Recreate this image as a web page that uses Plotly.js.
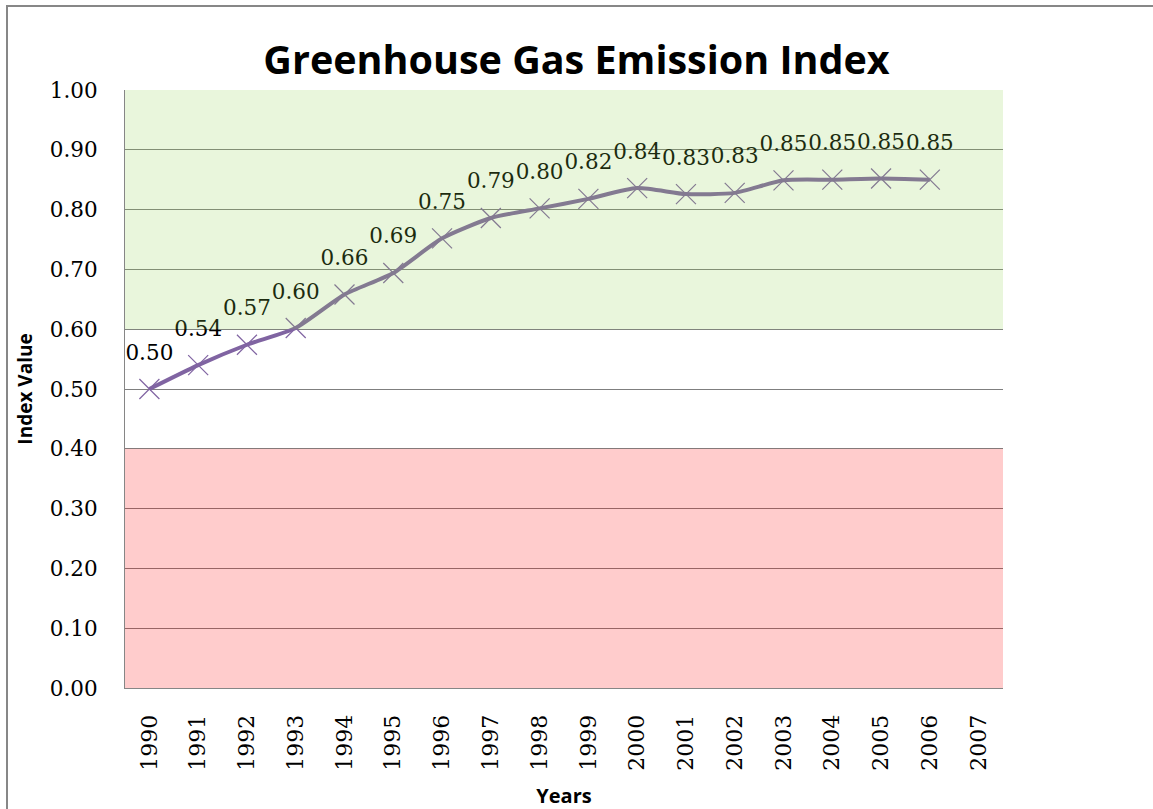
<!DOCTYPE html>
<html>
<head>
<meta charset="utf-8">
<script src="https://cdn.plot.ly/plotly-3.0.1.min.js"></script>
<style>
  html, body { margin: 0; padding: 0; background: #ffffff; }
  #wrap { position: relative; width: 1153px; height: 809px; overflow: hidden; }
  #chart { position: absolute; left: 0; top: 0; width: 1153px; height: 809px; }
  #frame { position: absolute; left: 6px; top: 5px; width: 1300px; height: 1000px;
           border-left: 2px solid #878787; border-top: 2px solid #878787; pointer-events: none; }
</style>
</head>
<body>
<div id="wrap">
  <div id="chart"></div>
  <div id="frame"></div>
</div>
<script>
// ---- data ----
const categories = ["1990","1991","1992","1993","1994","1995","1996","1997","1998",
                    "1999","2000","2001","2002","2003","2004","2005","2006","2007"];
const years = ["1990","1991","1992","1993","1994","1995","1996","1997","1998",
               "1999","2000","2001","2002","2003","2004","2005","2006"];
const indexValues = [0.50, 0.54, 0.574, 0.602, 0.658, 0.694, 0.752, 0.786, 0.802,
                     0.818, 0.836, 0.826, 0.828, 0.849, 0.850, 0.852, 0.850];
const yTickValues = [0.0, 0.1, 0.2, 0.3, 0.4, 0.5, 0.6, 0.7, 0.8, 0.9, 1.0];
const goodBand = [0.6, 1.0];
const badBand = [0.0, 0.4];

const lineColor = '#8064A2';
const serif = 'DejaVu Serif';
const sans = '"Open Sans", Calibri, sans-serif';

const traces = [
  {
    type: 'scatter', mode: 'lines+markers',
    x: years, y: indexValues,
    line: { color: lineColor, width: 4, shape: 'spline', smoothing: 0.6 },
    marker: { symbol: 'x-thin-open', size: 20, color: lineColor, line: { color: lineColor, width: 1.2 } },
    hoverinfo: 'x+y', showlegend: false
  },
  {
    type: 'scatter', mode: 'markers+text',
    x: years, y: indexValues,
    marker: { size: 37, color: 'rgba(0,0,0,0)' },
    texttemplate: '%{y:.2f}', textposition: 'top center',
    textfont: { family: serif, size: 21.5, color: '#000000' },
    hoverinfo: 'skip', showlegend: false, cliponaxis: false
  }
];

const layout = {
  width: 1153, height: 809,
  paper_bgcolor: '#ffffff', plot_bgcolor: '#ffffff',
  margin: { l: 125, r: 150, t: 90, b: 121 },
  title: {
    text: 'Greenhouse Gas Emission Index',
    font: { family: sans, size: 39.5, color: '#000000', weight: 'bold' },
    x: 0.5, xanchor: 'center', y: 1 - 60/809, yanchor: 'middle'
  },
  xaxis: {
    type: 'category', categoryorder: 'array', categoryarray: categories,
    range: [-0.5, categories.length - 0.5],
    tickvals: categories, ticktext: categories,
    tickangle: -90, ticks: '', ticklabelstandoff: 17,
    tickfont: { family: serif, size: 22, color: '#000000' },
    showgrid: false, zeroline: false,
    showline: true, linecolor: '#868686', linewidth: 1,
    title: { text: 'Years', font: { family: sans, size: 20, color: '#000000', weight: 'bold' }, standoff: 19 },
    fixedrange: true
  },
  yaxis: {
    range: [0, 1.0],
    tickvals: yTickValues, ticktext: yTickValues.map(v => v.toFixed(2)),
    ticks: '', ticklabelstandoff: 22,
    tickfont: { family: serif, size: 21.5, color: '#000000' },
    showgrid: true, gridcolor: '#7f7f7f', gridwidth: 1,
    zeroline: false,
    showline: true, linecolor: '#868686', linewidth: 1,
    title: { text: 'Index Value', font: { family: sans, size: 19, color: '#000000', weight: 'bold' }, standoff: 12 },
    fixedrange: true
  },
  shapes: [
    { type: 'rect', layer: 'above', xref: 'paper', yref: 'y', x0: 0, x1: 1,
      y0: goodBand[0], y1: goodBand[1], fillcolor: 'rgb(146,208,80)', opacity: 0.2, line: { width: 0 } },
    { type: 'rect', layer: 'above', xref: 'paper', yref: 'y', x0: 0, x1: 1,
      y0: badBand[0], y1: badBand[1], fillcolor: 'rgb(255,0,0)', opacity: 0.2, line: { width: 0 } }
  ]
};

Plotly.newPlot('chart', traces, layout, { displayModeBar: false, staticPlot: true });
</script>
</body>
</html>
